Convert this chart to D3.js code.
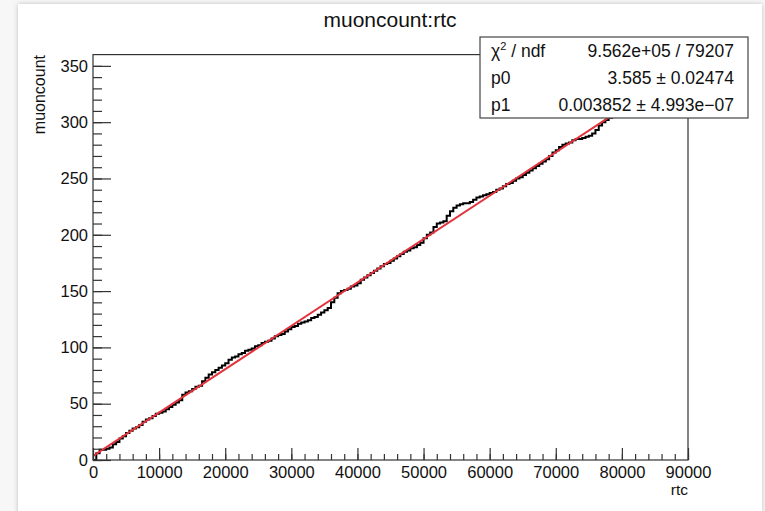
<!DOCTYPE html>
<html>
<head>
<meta charset="utf-8">
<script src="https://cdn.jsdelivr.net/npm/d3@7"></script>
<style>
  html, body { margin: 0; padding: 0; background: #f7f7f7; }
  svg { display: block; }
  text { font-family: "Liberation Sans", Arial, Helvetica, sans-serif; fill: #111; }
</style>
</head>
<body>
<svg id="chart" width="765" height="511"></svg>
<script>
// rtc sample positions (every 500 rtc) and the cumulative muon count there
const rtcValues = d3.range(0, 161).map(i => i * 500);
const muonCounts = [
  0, 6, 9, 9, 10, 11, 14, 16, 19, 21,
  24, 26, 28, 29, 31, 34, 36, 37, 39, 41,
  42, 43, 45, 47, 49, 51, 53, 58, 60, 61,
  63, 65, 66, 70, 73, 76, 78, 80, 82, 84,
  86, 89, 91, 92, 94, 95, 97, 98, 99, 101,
  102, 104, 105, 106, 108, 110, 111, 112, 114, 116,
  118, 119, 121, 122, 123, 124, 126, 127, 129, 131,
  133, 135, 140, 144, 148, 150, 151, 152, 154, 155,
  157, 160, 162, 164, 166, 168, 170, 172, 174, 175,
  177, 179, 181, 183, 185, 186, 188, 189, 191, 193,
  197, 200, 202, 207, 210, 211, 212, 217, 221, 224,
  226, 227, 228, 228, 229, 231, 233, 234, 235, 236,
  237, 238, 240, 241, 243, 245, 246, 248, 250, 251,
  253, 255, 257, 259, 261, 263, 265, 267, 270, 273,
  275, 278, 280, 281, 282, 284, 285, 285, 286, 287,
  288, 290, 293, 297, 300, 302, 304, 305, 307, 309,
  311
];

// linear fit results pol1: p0 + p1*x
const fitParams = { p0: 3.585, p1: 0.003852 };
const statLabels = ["χ2 / ndf", "p0", "p1"];
const statValues = ["9.562e+05 / 79207", "3.585 ± 0.02474", "0.003852 ± 4.993e−07"];

const xTicks = d3.range(0, 90001, 10000);
const yTicks = d3.range(0, 351, 50);

const svg = d3.select("#chart");

// canvas panel with a soft shadow
const defs = svg.append("defs");
const f = defs.append("filter").attr("id", "shadow").attr("x", "-5%").attr("y", "-5%").attr("width", "110%").attr("height", "110%");
f.append("feDropShadow").attr("dx", 0).attr("dy", 0).attr("stdDeviation", 2.5).attr("flood-color", "#999").attr("flood-opacity", 0.6);
svg.append("rect").attr("x", 18).attr("y", 4).attr("width", 744).attr("height", 530)
  .attr("fill", "#fff").attr("filter", "url(#shadow)");

const x = d3.scaleLinear().domain([0, 90000]).range([93, 688]);
const y = d3.scaleLinear().domain([0, 360]).range([460, 54.6]);

const clip = defs.append("clipPath").attr("id", "plotclip");
clip.append("rect").attr("x", 93).attr("y", 54.6).attr("width", 595).attr("height", 405.4);

// title
svg.append("text").attr("x", 390).attr("y", 27).attr("text-anchor", "middle")
  .style("font-size", "21px").text("muoncount:rtc");

// data curve
const pts = rtcValues.map((r, i) => [r, muonCounts[i]]);
const plot = svg.append("g").attr("clip-path", "url(#plotclip)");
plot.append("path").datum(pts)
  .attr("fill", "none").attr("stroke", "#000").attr("stroke-width", 2)
  .attr("d", d3.line().x(d => x(d[0])).y(d => y(d[1])).curve(d3.curveStepAfter));

// fit line
const fitX = [0, rtcValues[rtcValues.length - 1]];
plot.append("path").datum(fitX)
  .attr("fill", "none").attr("stroke", "#e2333d").attr("stroke-width", 2)
  .attr("d", d3.line().x(d => x(d)).y(d => y(fitParams.p0 + fitParams.p1 * d)));

// frame
svg.append("rect").attr("x", 93).attr("y", 54.6).attr("width", 595).attr("height", 405.4)
  .attr("fill", "none").attr("stroke", "#333").attr("stroke-width", 1.2);

// x axis: minor then major ticks pointing into the frame
const xMinor = svg.append("g").attr("transform", "translate(0,460)")
  .call(d3.axisBottom(x).tickValues(d3.range(0, 90001, 2000)).tickSize(-6).tickFormat(""));
const xMajor = svg.append("g").attr("transform", "translate(0,460)")
  .call(d3.axisBottom(x).tickValues(xTicks).tickSize(-12).tickPadding(6).tickFormat(d3.format("d")));

// y axis
const yMinor = svg.append("g").attr("transform", "translate(93,0)")
  .call(d3.axisLeft(y).tickValues(d3.range(0, 351, 10)).tickSize(-9).tickFormat(""));
const yMajor = svg.append("g").attr("transform", "translate(93,0)")
  .call(d3.axisLeft(y).tickValues(yTicks).tickSize(-18).tickPadding(5).tickFormat(d3.format("d")));

[xMinor, xMajor, yMinor, yMajor].forEach(g => {
  g.select(".domain").remove();
  g.selectAll(".tick line").attr("stroke", "#333").attr("stroke-width", 1.2);
  g.selectAll("text").style("font-size", "16.5px").style("font-family", "'Liberation Sans', Arial, sans-serif").attr("fill", "#111");
});

// axis titles
svg.append("text").attr("x", 688).attr("y", 495).attr("text-anchor", "end")
  .style("font-size", "15.5px").text("rtc");
svg.append("text").attr("transform", "translate(45,55) rotate(-90)").attr("text-anchor", "end")
  .style("font-size", "16px").text("muoncount");

// statistics box
const box = svg.append("g");
box.append("rect").attr("x", 480).attr("y", 37).attr("width", 268).attr("height", 81)
  .attr("fill", "#fff").attr("stroke", "#444").attr("stroke-width", 1.2);
statLabels.forEach((lab, i) => {
  const t = box.append("text").attr("x", 491).attr("y", 57 + i * 27).style("font-size", "17.5px");
  if (i === 0) {
    t.append("tspan").text("χ");
    t.append("tspan").attr("dy", -7).style("font-size", "11px").text("2");
    t.append("tspan").attr("dy", 7).text(" / ndf");
  } else {
    t.text(lab);
  }
  box.append("text").attr("x", 734).attr("y", 57 + i * 27).attr("text-anchor", "end")
    .style("font-size", "17.5px").text(statValues[i]);
});
</script>
</body>
</html>
